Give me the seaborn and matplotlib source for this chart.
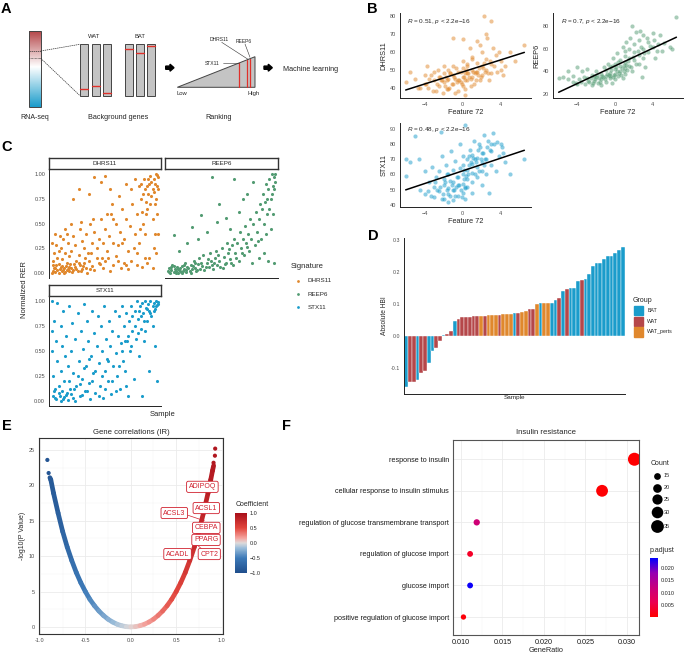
import numpy as np
import pandas as pd
import matplotlib
matplotlib.use('Agg')
import matplotlib.pyplot as plt
import seaborn as sns
from matplotlib.colors import LinearSegmentedColormap, Normalize
from matplotlib.collections import LineCollection
from matplotlib.patches import Rectangle, Polygon, FancyArrow
from matplotlib.cm import ScalarMappable

sns.set_theme(style='white')
plt.rcParams['font.family'] = ['Liberation Sans', 'DejaVu Sans']
plt.rcParams['mathtext.fontset'] = 'custom'
plt.rcParams['mathtext.it'] = 'Liberation Sans:italic'
plt.rcParams['mathtext.rm'] = 'Liberation Sans'

# ---------------- DATA ----------------
ORANGE, GREEN, BLUE, WATRED = '#E0882D', '#529B72', '#1A9CCB', '#B5474A'

# Panel B: (Feature 72, signature score)
b_dhrs11 = [(-3,44),(-2.5,46),(-2,43),(-2,48),(-1.5,45),(-1.5,50),(-1,42),(-1,47),(-1,52),(-0.5,44),(-0.5,49),(0,46),(0,41),(0,51),(0,55),(0.5,48),(0.5,44),(0.5,53),(1,46),(1,50),(1,57),(1.5,49),(1.5,54),(2,47),(2,52),(2,60),(2.5,50),(2.5,56),(3,53),(3,48),(3.5,58),(4,55),(4,50),(-4,42),(-4,47),(-3.5,45),(-3,49),(-2.5,41),(-2,52),(-1.5,39),(-0.5,38),(0.3,36),(1.2,42),(1.8,44),(2.8,44),(3.2,62),(4.5,52),(5,60),(6.5,64),(-5,45),(-5.5,49),(-6,43),(-4.5,40),(-3.8,52),(0.8,62),(1.5,66),(2.2,80),(2.5,70),(3,77),(1.8,64),(2.6,68),(3.8,60),(4.2,47),(5.5,55),(-2.8,38),(-1.8,46),(-0.8,45),(0.2,48),(0.7,46),(-2.2,44),(-0.2,43),(1.3,48),(-3.3,47),(-1.3,48),(0.4,50),(-0.7,51),(1.7,51),(-2.6,50),
            (-2.7,42),(-2.3,44),(-1.9,41),(-1.6,44),(-1.4,40),(-1.1,42),(-0.9,46),(-0.6,43),(-0.4,44),(-0.1,42),(0.1,46),(0.3,44),(0.6,48),(0.9,45),(1.1,49),(1.4,44),(1.6,47),(1.9,46),(2.1,51),(2.4,49),(2.7,48),(3.3,52),(3.6,49),(-3.6,40),(-3.1,38),(-2.1,37),(-1.7,39),(-0.8,37),(0.2,39),(0.9,41),(1.4,49),(2.3,54),(-0.2,49),(0.5,52),(-1.3,48),(-2.4,46),(1.0,56),(2.9,55),(-3.9,42),(-4.7,40),(-1,68),(0,67)]
b_reep6 = [(-6,34),(-5.5,35),(-5,33),(-4.5,36),(-4.2,30),(-3.8,33),(-3.5,40),(-3.2,29),(-3,34),(-2.8,31),(-2.5,37),(-2.2,32),(-2,35),(-2,40),(-1.8,30),(-1.5,38),(-1.5,33),(-1.2,44),(-1,36),(-1,31),(-1,41),(-0.8,47),(-0.5,34),(-0.5,39),(-0.5,44),(-0.2,52),(0,33),(0,38),(0,42),(0,47),(0.2,56),(0.3,36),(0.5,40),(0.5,45),(0.5,50),(0.8,62),(1,38),(1,43),(1,48),(1,54),(1.2,66),(1.5,45),(1.5,52),(1.5,60),(1.8,40),(2,50),(2,57),(2,64),(2.2,75),(2.5,47),(2.5,55),(2.5,68),(3,52),(3,60),(3,72),(3.2,44),(3.5,57),(3.5,66),(4,62),(4,74),(4.2,52),(4.5,64),(5,58),(6,60),(6.5,88),(-5,40),(-4,44),(-2.5,28),(-1.5,28),(-0.3,30),(0.8,34),(2.8,35),(-3,42),(1.8,80),(-1.3,35),(-0.7,37),(0.2,40),(0.6,37),(-0.2,35),(1.3,41),(-2.3,36),(0.9,46),(-1.7,34),
           (-4.5,31),(-4,29),(-3.6,31),(-3.3,35),(-2.9,32),(-2.6,34),(-2.4,30),(-2.1,33),(-1.9,37),(-1.6,31),(-1.4,36),(-1.1,33),(-0.9,38),(-0.6,36),(-0.4,41),(-0.1,37),(0.1,44),(0.4,39),(0.7,43),(0.9,40),(1.2,46),(1.4,49),(1.7,44),(1.9,53),(2.2,47),(2.4,58),(2.7,62),(3.1,56),(3.4,70),(3.7,63),(4.1,68),(4.4,58),(4.8,72),(5.2,65),(5.8,62),(0.3,48),(-0.3,45),(1.0,58),(1.6,70),(2.6,76)]
b_stx11 = [(-6,70),(-5.5,68),(-5,85),(-4.6,70),(-6,59),(-4.5,50),(-4,47),(-4,62),(-3.5,55),(-3.2,65),(-3,45),(-3,52),(-2.8,58),(-2.5,49),(-2.5,62),(-2.2,72),(-2,44),(-2,53),(-2,57),(-1.8,66),(-1.5,47),(-1.5,51),(-1.5,60),(-1.2,75),(-1,43),(-1,50),(-1,55),(-1,63),(-0.8,69),(-0.5,46),(-0.5,53),(-0.5,58),(-0.3,80),(0,48),(0,54),(0,60),(0,66),(0,72),(0.2,92),(0.3,51),(0.5,57),(0.5,63),(0.5,70),(0.8,76),(1,48),(1,55),(1,61),(1,67),(1,73),(1.2,82),(1.5,58),(1.5,65),(1.5,71),(1.8,78),(2,53),(2,62),(2,68),(2,74),(2.2,86),(2.5,60),(2.5,70),(2.8,48),(3,66),(3,75),(3,80),(3.2,87),(3.5,62),(3.8,72),(4,80),(4.2,74),(4.5,68),(5,60),(6.5,70),(-2.3,88),(-1.5,42),(0.3,44),(-0.7,52),(0.7,66),(1.3,70),(-1.3,56),(0.1,57),(2.3,66),(1.7,62),
           (-2.7,50),(-2.4,52),(-2.1,47),(-1.9,55),(-1.6,50),(-1.3,46),(-1.1,53),(-0.9,50),(-0.6,58),(-0.4,53),(-0.2,50),(0.1,63),(0.4,59),(0.6,60),(0.9,68),(1.1,71),(1.4,68),(1.6,76),(1.9,70),(2.1,74),(2.4,70),(2.6,78),(2.9,76),(3.3,80),(3.6,81),(4.1,78),(-3.3,46),(-3.7,49),(-0.8,46),(0.2,52),(1.3,60),(-1.7,60),(-0.3,64),(0.7,72),(1.7,80),(2.7,82),(-2.9,55),(-2.2,44),(0.5,52),(-0.1,45)]
b_r_text = ['0.51', '0.7', '0.48']

# Panel C: (sample rank, normalized RER)
c_dhrs11 = [(1,0.02),(2,0.05),(3,0.01),(4,0.08),(5,0.03),(6,0.0),(7,0.04),(8,0.06),(9,0.02),(10,0.03),(11,0.05),(12,0.01),(13,0.07),(14,0.03),(15,0.04),(16,0.02),(17,0.09),(18,0.05),(20,0.03),(22,0.06),(24,0.02),(26,0.08),(28,0.04),(30,0.1),(32,0.05),(35,0.12),(38,0.07),(40,0.03),(42,0.15),(45,0.09),(48,0.05),(50,0.12),(55,0.02),(58,0.08),(60,0.17),(65,0.05),(68,0.1),(72,0.04),(75,0.12),(80,0.08),(85,0.06),(90,0.1),(95,0.05),
            (2,0.2),(4,0.28),(5,0.15),(8,0.25),(10,0.35),(12,0.2),(14,0.4),(15,0.3),(18,0.22),(20,0.38),(22,0.28),(25,0.18),(26,0.45),(28,0.32),(30,0.25),(32,0.4),(34,0.2),(36,0.5),(38,0.3),(40,0.42),(42,0.25),(44,0.35),(46,0.55),(48,0.3),(50,0.45),(52,0.22),(54,0.38),(56,0.6),(58,0.3),(60,0.5),(62,0.28),(64,0.42),(66,0.65),(68,0.35),(70,0.55),(72,0.22),(74,0.48),(76,0.7),(78,0.4),(80,0.6),(82,0.3),(84,0.75),(86,0.5),(88,0.85),(90,0.65),(92,0.9),(94,0.78),(96,0.95),(97,0.7),(98,1.0),(99,0.88),(100,0.97),(95,0.85),(93,0.98),(91,0.8),(89,0.72),(87,0.95),(85,0.62),(99,0.6),(97,0.4),(95,0.55),(83,0.45),(80,0.2),(92,0.15),(98,0.2),
            (3,0.4),(7,0.38),(12,0.45),(18,0.5),(20,0.75),(25,0.85),(27,0.52),(35,0.8),(40,0.97),(46,0.92),(50,0.98),(55,0.85),(57,0.7),(63,0.78),(70,0.9),(75,0.85),(78,0.95),(82,0.88),
            (0,0.0),(1,0.08),(3,0.05),(6,0.09),(9,0.07),(11,0.0),(14,0.1),(16,0.06),(19,0.01),(21,0.09),(23,0.04),(25,0.1),(27,0.02),(29,0.07),(33,0.0),(36,0.04),(0,0.3),(1,0.12),(6,0.22),(9,0.14),(16,0.17),(23,0.12),(31,0.15),(37,0.2),(44,0.1),(53,0.15),(62,0.12),(70,0.08),(77,0.25),(88,0.4),(90,0.88),(94,0.92),(96,0.82),(98,0.75),(100,0.85),(99,0.99),(97,0.9),(93,0.7),(91,0.95),(89,0.6),(86,0.8),(84,0.9),(100,0.4),(96,0.25),(88,0.15),(66,0.3),(58,0.55),(52,0.6),(47,0.15),(39,0.55)]
c_reep6 = [(0,0.02),(1,0.05),(2,0.0),(3,0.03),(4,0.08),(5,0.01),(6,0.04),(7,0.02),(8,0.06),(9,0.0),(10,0.03),(11,0.05),(12,0.01),(13,0.07),(14,0.02),(15,0.04),(16,0.1),(17,0.03),(18,0.06),(20,0.02),(21,0.08),(22,0.04),(24,0.12),(25,0.05),(26,0.02),(28,0.09),(29,0.15),(30,0.04),(32,0.07),(33,0.18),(34,0.03),(36,0.1),(38,0.06),(39,0.2),(40,0.12),(42,0.04),(44,0.15),(45,0.22),(46,0.08),(48,0.12),(50,0.25),(51,0.05),(52,0.16),(54,0.1),(55,0.3),(56,0.2),(58,0.14),(60,0.28),(61,0.08),(62,0.35),(63,0.2),(65,0.3),(66,0.12),(67,0.42),(68,0.25),(70,0.35),(71,0.18),(72,0.48),(73,0.3),(75,0.4),(76,0.22),(77,0.55),(78,0.35),(80,0.5),(81,0.28),(82,0.62),(83,0.42),(85,0.55),(86,0.7),(87,0.35),(88,0.65),(89,0.8),(90,0.5),(91,0.72),(92,0.9),(93,0.6),(94,0.85),(95,0.95),(96,0.75),(97,1.0),(98,0.88),(99,0.97),(100,0.92),(96,0.45),(98,0.6),(99,0.1),(94,0.12),(90,0.2),(85,0.15),(79,0.1),
           (5,0.39),(10,0.22),(18,0.3),(22,0.47),(28,0.35),(31,0.59),(36,0.42),(41,0.97),(46,0.52),(48,0.7),(54,0.56),(58,0.45),(62,0.95),(66,0.62),(70,0.75),(74,0.8),(80,0.92),
           (1,0.01),(3,0.06),(5,0.07),(7,0.0),(9,0.04),(11,0.02),(13,0.0),(15,0.08),(17,0.01),(19,0.05),(21,0.0),(23,0.07),(25,0.1),(27,0.03),(31,0.1),(35,0.06),(37,0.14),(41,0.08),(43,0.1),(47,0.18),(49,0.06),(53,0.09),(57,0.24),(59,0.1),(64,0.15),(69,0.2),(74,0.26),(84,0.32),(92,0.4),(95,0.65),(97,0.8),(99,0.85),(100,1.0),(93,0.75)]
c_stx11 = [(0,1.0),(0,0.7),(0,0.5),(1,0.25),(2,0.1),(3,0.03),(2,0.8),(4,0.6),(5,0.98),(5,0.4),(6,0.15),(7,0.05),(8,0.75),(8,0.3),(9,0.55),(10,0.02),(10,0.9),(11,0.2),(12,0.45),(13,0.65),(14,0.08),(15,0.35),(16,0.95),(17,0.12),(18,0.5),(19,0.78),(20,0.03),(20,0.28),(22,0.62),(23,0.15),(24,0.88),(25,0.4),(26,0.05),(27,0.7),(28,0.22),(29,0.52),(30,0.97),(31,0.1),(32,0.35),(33,0.8),(34,0.6),(35,0.18),(36,0.02),(37,0.45),(38,0.9),(39,0.28),(40,0.68),(41,0.08),(42,0.55),(43,0.85),(44,0.38),(45,0.15),(46,0.75),(47,0.5),(48,0.03),(49,0.95),(50,0.3),(51,0.62),(52,0.42),(53,0.2),(54,0.8),(55,0.55),(56,0.07),(57,0.7),(58,0.35),(59,0.9),(60,0.48),(61,0.25),(62,0.65),(63,0.85),(64,0.12),(65,0.58),(66,0.95),(67,0.4),(68,0.75),(69,0.3),(70,0.88),(71,0.6),(72,0.05),(73,0.8),(74,0.5),(75,0.95),(76,0.7),(77,0.22),(78,0.9),(79,0.62),(80,1.0),(81,0.82),(82,0.45),(83,0.95),(84,0.72),(85,0.98),(86,0.88),(87,0.6),(88,1.0),(89,0.93),(90,0.8),(91,0.97),(92,0.9),(93,1.0),(94,0.85),(95,0.95),(96,0.98),(97,0.92),(98,1.0),(99,0.96),(100,0.99),(95,0.75),(97,0.55),(99,0.2),(92,0.3),(85,0.05),(70,0.15),
           (1,0.05),(3,0.12),(4,0.02),(6,0.08),(8,0.0),(9,0.1),(11,0.04),(13,0.06),(15,0.01),(16,0.2),(18,0.07),(21,0.12),(22,0.0),(24,0.25),(26,0.17),(28,0.06),(30,0.33),(33,0.1),(35,0.42),(38,0.2),(41,0.3),(44,0.05),(47,0.25),(50,0.12),(53,0.4),(57,0.2),(60,0.1),(63,0.35),(66,0.5),(69,0.6),(72,0.65),(75,0.55),(78,0.75),(81,0.68),(84,0.85),(87,0.8),(90,0.92),(93,0.88),(96,0.9),(98,0.95),(100,0.97),(88,0.7),(82,0.9),(76,0.85)]

# Panel D: samples sorted by HBI
d_vals = [-0.158,-0.144,-0.144,-0.136,-0.117,-0.109,-0.083,-0.047,-0.036,-0.017,
          0.003,0.006,0.017,0.046,0.052,0.059,0.060,0.060,0.061,0.062,
          0.0625,0.063,0.065,0.065,0.065,0.067,0.068,0.068,0.068,0.071,
          0.071,0.074,0.077,0.083,0.083,0.100,0.104,0.104,0.104,0.104,
          0.112,0.120,0.140,0.147,0.149,0.151,0.171,0.174,0.177,0.194,
          0.219,0.227,0.227,0.239,0.250,0.250,0.260,0.270,0.277]
d_grp = ['BAT','WAT','WAT','BAT','WAT','WAT','BAT','BAT','WAT','WAT',
         'BAT','WAT','WAT','BAT','WAT','WAT','WAT','WAT','WAT','WAT',
         'WAT_perts','WAT','WAT_perts','WAT_perts','WAT_perts','WAT','WAT_perts','WAT_perts','WAT_perts','BAT',
         'WAT','WAT_perts','WAT_perts','WAT','WAT','WAT_perts','BAT','WAT_perts','WAT_perts','BAT',
         'BAT','WAT','BAT','WAT','BAT','BAT','BAT','WAT','BAT','BAT',
         'BAT','BAT','BAT','BAT','BAT','BAT','BAT','BAT','BAT']
d_groups = ['BAT', 'WAT', 'WAT_perts']

# Panel E: correlation coefficient vs -log10(p)
e_coef = [-0.89,-0.88,-0.85,-0.8,-0.75,-0.7,-0.65,-0.6,-0.55,-0.5,-0.45,-0.4,-0.35,-0.3,-0.25,-0.2,-0.15,-0.1,-0.05,
          0.0,0.05,0.1,0.15,0.2,0.25,0.3,0.35,0.4,0.45,0.5,0.55,0.6,0.65,0.7,0.75,0.8,0.85,0.88,0.9,0.912]
e_logp = [21.1,20.8,18.9,16.1,13.5,11.3,9.4,7.7,6.25,5.0,3.9,3.0,2.24,1.61,1.09,0.69,0.38,0.17,0.04,
          0.0,0.04,0.17,0.38,0.69,1.09,1.61,2.24,3.0,3.9,5.0,6.25,7.7,9.4,11.3,13.5,16.1,18.9,20.8,22.1,22.8]
e_top_coef = [-0.918,-0.904,0.911,0.926,0.929]
e_top_logp = [23.6,21.75,23.2,24.2,25.2]
e_labels = ['ADIPOQ','ACSL1','ACSL3','CEBPA','PPARG','ACADL','CPT2']
e_lab_x = [0.788,0.831,0.479,0.831,0.828,0.515,0.864]
e_lab_y = [19.8,16.8,16.1,14.0,12.3,10.3,10.3]

# Panel F: GO enrichment
f_terms = ['response to insulin','cellular response to insulin stimulus',
           'regulation of glucose transmembrane transport','regulation of glucose import',
           'glucose import','positive regulation of glucose import']
f_ratio = [0.0309,0.0270,0.0119,0.0111,0.0111,0.0103]
f_count = [36,31,14,13,13,12]
f_padj = [0.0002,0.0003,0.011,0.003,0.0235,0.0008]

# ---------------- LAYOUT ----------------
W, H = 685, 655
fig = plt.figure(figsize=(W/100, H/100), dpi=100)

def rect(x0, y0, x1, y1):
    return [x0/W, 1 - y1/H, (x1 - x0)/W, (y1 - y0)/H]

ov = fig.add_axes([0, 0, 1, 1])
ov.set_xlim(0, W); ov.set_ylim(H, 0); ov.axis('off')

def classic(ax, lw=0.7):
    for s in ['top', 'right']:
        ax.spines[s].set_visible(False)
    for s in ['left', 'bottom']:
        ax.spines[s].set_color('#222222'); ax.spines[s].set_linewidth(lw)
    ax.tick_params(labelsize=4, length=1.8, width=0.5, color='#333333',
                   labelcolor='#4d4d4d', pad=1)
    ax.set_facecolor('none')

# ---------- Panel A (schematic) ----------
for lab, x, y in [('A',1,13.3),('B',367,12.7),('C',1.7,150.7),('D',368,240),('E',1.7,430),('F',281.7,430)]:
    ov.text(x, y, lab, fontsize=10.5, fontweight='bold', va='baseline', ha='left', color='black')

grad_cmap = LinearSegmentedColormap.from_list('g', [(0, '#B5474A'), (0.47, '#FFFFFF'), (1, '#1A9CCB')])
ov.imshow(np.linspace(0, 1, 200)[:, None], extent=(29.3, 40.7, 106.7, 31), aspect='auto', cmap=grad_cmap, zorder=1)
ov.add_patch(Rectangle((29.3, 31), 11.4, 75.7, fill=False, ec='#444444', lw=0.7, zorder=2))
ov.plot([29.3, 40.7], [51, 51], color='#333333', lw=0.5, ls=(0, (2, 1)), zorder=3)
ov.plot([29.3, 40.7], [58.3, 58.3], color='#333333', lw=0.5, ls=(0, (1, 1)), zorder=3)
ov.plot([40.7, 80], [51, 44.3], color='#333333', lw=0.5, ls=(0, (2, 1)))
ov.plot([40.7, 80], [58.3, 95.7], color='#333333', lw=0.5, ls=(0, (2, 1)))
ov.text(34.3, 117.3, 'RNA-seq', fontsize=5, ha='center', va='center')
for x0, ry in [(80, 89.3), (91.7, 86.3), (102.7, 93)]:
    ov.add_patch(Rectangle((x0, 44.3), 8.3, 51.4, fc='#C4C4C4', ec='#444444', lw=0.7))
    ov.plot([x0, x0 + 8.3], [ry, ry], color='#E0302A', lw=1.0)
for x0, ry in [(124.7, 48.7), (135.9, 52.7), (147.1, 46.3)]:
    ov.add_patch(Rectangle((x0, 44.3), 8.3, 51.4, fc='#C4C4C4', ec='#444444', lw=0.7))
    ov.plot([x0, x0 + 8.3], [ry, ry], color='#E0302A', lw=1.0)
ov.text(94, 36.7, 'WAT', fontsize=4.2, ha='center', va='center')
ov.text(140, 36.7, 'BAT', fontsize=4.2, ha='center', va='center')
ov.text(118.3, 117.3, 'Background genes', fontsize=5.2, ha='center', va='center')
for xa in [165.7, 264]:
    ov.add_patch(FancyArrow(xa, 67.7, 8.3, 0, width=3.2, head_width=7, head_length=4,
                            length_includes_head=True, color='black'))
ov.add_patch(Polygon([(177.3, 87.3), (255, 56.7), (255, 87.3)], closed=True, fc='#C4C4C4', ec='#444444', lw=0.7))
for xr in [239.3, 246.7, 250]:
    ov.plot([xr, xr], [87.3, 87.3 - (xr - 177.3) * 30.6 / 77.7], color='#E0302A', lw=0.9)
ov.text(212, 63.3, 'STX11', fontsize=3.6, ha='center', va='center')
ov.plot([223.3, 239.3], [62.7, 62.7], color='#333333', lw=0.4)
ov.text(219.5, 39.3, 'DHRS11', fontsize=3.6, ha='center', va='center')
ov.plot([221.7, 248], [42.3, 59.3], color='#333333', lw=0.4)
ov.text(243.7, 41.3, 'REEP6', fontsize=3.6, ha='center', va='center')
ov.plot([245, 250], [44, 57.3], color='#333333', lw=0.4)
ov.text(182.3, 93.5, 'Low', fontsize=4.2, ha='center', va='center')
ov.text(253.3, 93.5, 'High', fontsize=4.2, ha='center', va='center')
ov.text(218.3, 117.3, 'Ranking', fontsize=5.2, ha='center', va='center')
ov.text(282.7, 69.3, 'Machine learning', fontsize=5.2, ha='left', va='center')

# ---------- Panel B ----------
b_specs = [(b_dhrs11, ORANGE, 'DHRS11', (400, 13, 531, 98), (34.2, 81.7), [40, 50, 60, 70, 80], (406.7, 21.7)),
           (b_reep6, GREEN, 'REEP6', (553, 13, 683, 98), (16.5, 91.8), [20, 40, 60, 80], (561, 21.7)),
           (b_stx11, BLUE, 'STX11', (400, 123, 531, 207), (38.7, 93.6), [40, 50, 60, 70, 80, 90], (406.7, 129))]
for (pts, col, name, box, yl, yt, tpos), rtxt in zip(b_specs, b_r_text):
    ax = fig.add_axes(rect(*box))
    df = pd.DataFrame(pts, columns=['feature', 'score'])
    sns.regplot(data=df, x='feature', y='score', ax=ax, ci=None, truncate=True,
                scatter_kws=dict(s=9, alpha=0.5, color=col, linewidths=0),
                line_kws=dict(color='black', lw=1.1))
    classic(ax)
    ax.set_xlim(-6.6, 7.2); ax.set_ylim(*yl)
    ax.set_xticks([-4, 0, 4]); ax.set_yticks(yt)
    ax.set_xlabel('Feature 72', fontsize=5.3, labelpad=1.5)
    ax.set_ylabel(name, fontsize=5.3, labelpad=1.5)
    ov.text(tpos[0], tpos[1], r'$\it{R}$ = ' + rtxt + r', $\it{p}$ < 2.2e−16', fontsize=4.6, ha='left', va='center')

# ---------- Panel C ----------
c_specs = [(c_dhrs11, ORANGE, 'DHRS11', (49, 169, 161, 278), True, False),
           (c_reep6, GREEN, 'REEP6', (165, 169, 278, 278), False, True),
           (c_stx11, BLUE, 'STX11', (49, 296, 161, 406), True, True)]
for pts, col, name, box, lefty, bottomx in c_specs:
    ax = fig.add_axes(rect(*box))
    df = pd.DataFrame(pts, columns=['sample', 'rer'])
    sns.scatterplot(data=df, x='sample', y='rer', ax=ax, color=col, s=5, linewidth=0, legend=False)
    classic(ax)
    ax.set_xlim(-3, 103); ax.set_ylim(-0.05, 1.054)
    ax.set_xticks([]); ax.set_xlabel(''); ax.set_ylabel('')
    if lefty:
        ax.set_yticks([0, 0.25, 0.5, 0.75, 1.0])
        ax.set_yticklabels(['0.00', '0.25', '0.50', '0.75', '1.00'])
    else:
        ax.set_yticks([]); ax.spines['left'].set_visible(False)
    if not bottomx:
        ax.spines['bottom'].set_visible(False)
    sx = fig.add_axes(rect(box[0], box[1] - 11.3, box[2], box[1]))
    sx.set_xticks([]); sx.set_yticks([])
    for s in sx.spines.values():
        s.set_color('#333333'); s.set_linewidth(1.0)
    sx.set_facecolor('white')
    sx.text(0.5, 0.5, name, fontsize=4.5, ha='center', va='center', transform=sx.transAxes)
ov.text(25, 290, 'Normalized RER', fontsize=5.5, rotation=90, ha='center', va='center')
ov.text(163, 414, 'Sample', fontsize=5.5, ha='center', va='center')
ov.text(290.7, 266.7, 'Signature', fontsize=5.5, ha='left', va='center')
for yy, col, name in [(280.7, ORANGE, 'DHRS11'), (294, GREEN, 'REEP6'), (307.3, BLUE, 'STX11')]:
    ov.scatter([297.7], [yy], s=4, color=col, linewidths=0)
    ov.text(307.3, yy, name, fontsize=4.5, ha='left', va='center')

# ---------- Panel D ----------
ax = fig.add_axes(rect(404, 238, 625, 394))
dfd = pd.DataFrame({'sample': list(range(len(d_vals))), 'hbi': d_vals, 'group': d_grp})
pal = {'BAT': BLUE, 'WAT': WATRED, 'WAT_perts': ORANGE}
sns.barplot(data=dfd, x='sample', y='hbi', hue='group', palette=pal, dodge=False, width=1.0,
            saturation=1, edgecolor='white', linewidth=0.3, legend=False, ax=ax, hue_order=d_groups)
classic(ax)
ax.set_xlim(-0.6, len(d_vals) - 0.4); ax.set_ylim(-0.181, 0.306)
ax.set_yticks([-0.1, 0.0, 0.1, 0.2, 0.3]); ax.set_yticklabels(['-0.1', '0.0', '0.1', '0.2', '0.3'])
ax.tick_params(axis='x', labelbottom=False, length=1.5, width=0.4)
ax.tick_params(axis='y', labelsize=3.8)
ax.set_xlabel('Sample', fontsize=4.6, labelpad=1)
ax.set_ylabel('Absolute HBI', fontsize=4.8, labelpad=2)
ov.text(633, 300, 'Group', fontsize=5, ha='left', va='center')
for yy, g in zip([306, 316.7, 327.2], d_groups):
    ov.add_patch(Rectangle((634, yy), 9.3, 9.3, color=pal[g]))
    ov.text(647.3, yy + 4.7, g, fontsize=3.8, ha='left', va='center')

# ---------- Panel E ----------
coef_cmap = LinearSegmentedColormap.from_list('coef', [(0, '#1F4E8C'), (0.25, '#3D7AB8'), (0.42, '#9DBEDA'),
                                                        (0.5, '#DEDADA'), (0.58, '#F4A6A0'), (0.75, '#E2463D'), (1, '#A80F1A')])
cnorm = Normalize(-1, 1)
ax = fig.add_axes(rect(39, 438, 223, 634))
ax.set_axisbelow(True)
ax.grid(True, which='major', color='#EBEBEB', lw=0.6)
ax.set_xticks([-0.75, -0.25, 0.25, 0.75], minor=True)
ax.set_yticks([2.5, 7.5, 12.5, 17.5, 22.5], minor=True)
ax.grid(True, which='minor', color='#F3F3F3', lw=0.35)
ex = np.array(e_coef); ey = np.array(e_logp)
for mask in [ex <= 0, ex >= 0]:
    pts = np.column_stack([ex[mask], ey[mask]])
    segs = np.stack([pts[:-1], pts[1:]], axis=1)
    lc = LineCollection(segs, cmap=coef_cmap, norm=cnorm, linewidths=3.4, capstyle='round')
    lc.set_array((pts[:-1, 0] + pts[1:, 0]) / 2)
    ax.add_collection(lc)
dfe = pd.DataFrame({'coef': e_top_coef, 'logp': e_top_logp})
sns.scatterplot(data=dfe, x='coef', y='logp', hue='coef', palette=coef_cmap, hue_norm=(-1, 1),
                s=9, linewidth=0, legend=False, ax=ax)
ax.set_xlim(-1.01, 1.015); ax.set_ylim(-1.0, 26.7)
ax.set_xticks([-1.0, -0.5, 0.0, 0.5, 1.0]); ax.set_yticks([0, 5, 10, 15, 20, 25])
ax.set_xticklabels(['-1.0', '-0.5', '0.0', '0.5', '1.0'])
ax.tick_params(which='major', labelsize=4, length=1.8, width=0.5, color='#333333', labelcolor='#4d4d4d', pad=1)
ax.tick_params(which='minor', length=0)
for s in ax.spines.values():
    s.set_color('#333333'); s.set_linewidth(0.8)
ax.set_facecolor('white')
ax.set_xlabel('')
ax.set_ylabel('-log10(P Value)', fontsize=5, labelpad=2)
ax.set_title('Gene correlations (IR)', fontsize=5.6, pad=3)
LRED = '#D0202E'
ax.plot([0.632, 0.81], [15.77, 15.0], color=LRED, lw=0.5)
ax.plot([0.675, 0.73], [10.9, 11.6], color=LRED, lw=0.5)
ax.plot([0.73, 0.79], [11.6, 10.9], color=LRED, lw=0.5)
for t, x, y in zip(e_labels, e_lab_x, e_lab_y):
    ax.text(x, y, t, fontsize=5, color=LRED, ha='center', va='center',
            bbox=dict(boxstyle='round,pad=0.3,rounding_size=0.25', fc='white', ec=LRED, lw=0.6))
cax = fig.add_axes(rect(235, 513, 247, 573))
cb = fig.colorbar(ScalarMappable(norm=cnorm, cmap=coef_cmap), cax=cax)
cb.outline.set_visible(False)
cb.set_ticks([-1, -0.5, 0, 0.5, 1])
cb.set_ticklabels(['−1.0', '−0.5', '0.0', '0.5', '1.0'])
cax.tick_params(labelsize=4, length=2, width=0.5, color='white', direction='in', pad=2)
ov.text(236, 505, 'Coefficient', fontsize=5, ha='left', va='center')

# ---------- Panel F ----------
padj_cmap = LinearSegmentedColormap.from_list('padj', ['#FF0000', '#EB0052', '#C8007D', '#9500B3', '#0000FF'])
ax = fig.add_axes(rect(453, 440, 639, 635))
ax.set_axisbelow(True)
dff = pd.DataFrame({'term': f_terms, 'ratio': f_ratio, 'count': f_count, 'padj': f_padj})
sns.scatterplot(data=dff, x='ratio', y='term', size='count', sizes=(14.6, 87.6), size_norm=(12, 36),
                hue='padj', palette=padj_cmap, hue_norm=(0.0001, 0.024), linewidth=0, legend=False, ax=ax)
ax.set_ylim(5.57, -0.61)
ax.set_xlim(0.00904, 0.03145)
ax.set_xticks([0.010, 0.015, 0.020, 0.025, 0.030])
ax.set_xticklabels(['0.010', '0.015', '0.020', '0.025', '0.030'])
ax.set_xticks([0.0125, 0.0175, 0.0225, 0.0275], minor=True)
ax.grid(True, which='major', color='#EBEBEB', lw=0.6)
ax.grid(True, which='minor', axis='x', color='#F3F3F3', lw=0.35)
ax.tick_params(which='major', labelsize=5.2, length=1.8, width=0.5, color='#333333', labelcolor='#1a1a1a', pad=1)
ax.tick_params(which='minor', length=0)
for s in ax.spines.values():
    s.set_color('#555555'); s.set_linewidth(0.8)
ax.set_facecolor('white')
ax.set_ylabel('')
ax.set_xlabel('GeneRatio', fontsize=5.3, labelpad=1)
ax.set_title('Insulin resistance', fontsize=5.6, pad=4)
ov.text(650.7, 463.3, 'Count', fontsize=5, ha='left', va='center')
for yy, c in zip([475.7, 487.7, 499.3, 512, 526], [15, 20, 25, 30, 35]):
    ov.scatter([657.3], [yy], s=14.6 + (c - 12) * (87.6 - 14.6) / 24, color='black', linewidths=0)
    ov.text(663.5, yy, str(c), fontsize=4, ha='left', va='center')
cax2 = fig.add_axes(rect(650, 558, 658, 617))
cb2 = fig.colorbar(ScalarMappable(norm=Normalize(0.0001, 0.024), cmap=padj_cmap), cax=cax2)
cb2.outline.set_visible(False)
cb2.set_ticks([0.005, 0.010, 0.015, 0.020])
cb2.set_ticklabels(['0.005', '0.010', '0.015', '0.020'])
cax2.tick_params(labelsize=4, length=2, width=0.5, color='white', direction='in', pad=2)
ov.text(650, 551, 'p.adjust', fontsize=5, ha='left', va='center')

fig.savefig('out.png', dpi=100)
